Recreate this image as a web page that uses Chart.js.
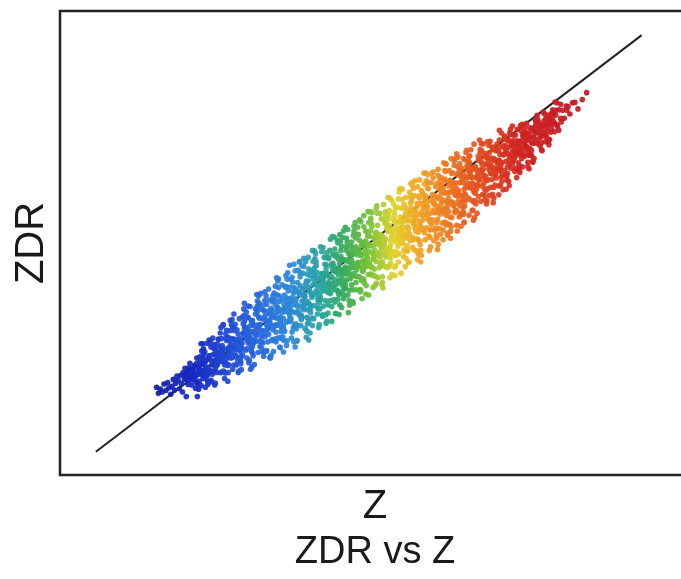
<!DOCTYPE html>
<html>
<head>
<meta charset="utf-8">
<script src="https://cdn.jsdelivr.net/npm/chart.js@4.4.1/dist/chart.umd.min.js"></script>
<style>
  html, body { margin: 0; padding: 0; background: #fff; overflow: hidden; }
  #wrap { width: 700px; height: 579px; }
</style>
</head>
<body>
<div id="wrap"><canvas id="scatterChart" width="700" height="579"></canvas></div>
<script>
// Z / ZDR pairs (axis has no ticks, so units are arbitrary 0-100)
const bluePts = [
  [15.6,18.9],[15.9,17.6],
  [16.2,18.5],[16.5,17.9],[16.8,19.6],
  [17.1,18.2],[17.4,19.9],[17.6,18.8],[17.9,17.4],
  [18.1,19.1],[18.3,20.6],[18.5,18.3],[18.7,19.8],[18.9,21.3],
  [19.1,20.4],[19.3,18.6],[19.5,21.5],[19.6,19.7],[19.8,17.9],[19.9,22.1],
  [20.1,20.6],[20.2,23.0],[20.4,16.9],[20.5,21.8],[20.7,19.5],[20.8,22.4],[20.9,20.9],
  [21.0,24.1],[21.2,21.2],[21.3,19.4],[21.5,22.6],[21.6,20.5],[21.8,23.5],[21.9,18.7],[21.9,22.0],
  [22.0,21.6],[22.1,25.2],[22.2,16.9],[22.4,23.3],[22.5,20.2],[22.6,22.8],[22.7,24.4],[22.8,19.3],[22.9,21.9],
  [23.0,23.9],[23.1,20.8],[23.2,26.0],[23.4,22.4],[23.5,18.9],[23.6,24.7],[23.7,21.6],[23.8,28.4],[23.9,23.1],[23.9,20.1],
  [24.6,23.7],[24.1,25.7],[24.9,22.3],[24.4,27.6],[24.7,24.3],[24.0,25.0],[24.5,20.1],[24.9,27.2],[24.3,22.5],[24.7,29.5],
  [25.3,26.5],[25.8,25.1],[25.1,23.0],[25.6,29.2],[25.4,25.5],[26.0,22.1],[25.1,27.2],[25.5,24.3],[25.9,30.6],[25.3,23.6],[25.7,26.4],
  [26.0,25.5],[26.9,29.5],[26.5,24.6],[26.2,26.7],[26.7,22.0],[26.2,27.9],[26.8,25.8],[26.4,32.4],[26.6,23.7],[26.1,26.3],[26.8,30.4],
  [27.6,28.0],[27.1,23.6],[27.9,31.9],[27.4,26.7],[27.7,29.4],[27.0,25.2],[27.5,33.3],[27.9,22.8],[27.3,27.1],[27.7,26.2],[27.2,29.6],[27.8,25.3],
  [28.3,25.8],[28.8,28.8],[28.1,23.7],[28.6,31.3],[28.4,27.1],[29.0,33.7],[28.1,29.3],[28.5,25.4],[28.9,22.4],[28.3,28.9],[28.7,28.0],[28.0,31.8],
  [29.0,28.9],[29.9,31.9],[29.5,25.9],[29.2,27.5],[29.7,34.3],[29.2,24.0],[29.8,30.1],[29.4,28.4],[29.6,32.6],[29.1,26.7],[29.8,37.0],[29.3,25.5],[29.6,30.6],
  [30.6,28.9],[30.1,31.5],[30.9,27.0],[30.4,34.0],[30.7,29.6],[30.0,30.7],[30.5,24.2],[30.9,33.3],[30.3,27.3],[30.7,36.3],[30.2,25.2],[30.8,30.9],[30.4,29.7],
  [31.3,32.3],[31.8,30.4],[31.1,27.7],[31.6,35.8],[31.4,31.0],[32.0,26.4],[31.1,33.3],[31.5,29.3],[31.9,37.5],[31.3,28.5],[31.7,32.0],[31.0,23.3],[31.4,30.5],[31.9,35.2],
  [32.0,30.9],[32.9,35.5],[32.5,29.8],[32.2,32.3],[32.7,26.6],[32.2,33.8],[32.8,31.1],[32.4,39.1],[32.6,28.7],[32.1,31.9],[32.8,36.6],[32.3,27.7],[32.6,33.8],[33.0,26.5],
  [33.6,31.9],[33.1,33.9],[33.9,25.3],[33.4,36.8],[33.7,30.3],[33.0,35.4],[33.5,31.4],[33.9,33.4],[33.3,26.7],[33.7,40.1],[33.2,30.6],[33.8,35.4],[33.4,32.3],[33.1,37.6],
  [34.3,29.2],[34.8,40.7],[34.1,35.9],[34.6,32.0],[34.4,38.6],[35.0,33.8],[34.1,34.5],[34.5,26.6],[34.9,30.8],[34.3,35.4],[34.7,37.7],[34.0,32.2],[34.4,37.3],[34.9,29.4],[34.6,34.3],
  [35.0,32.4],[35.9,35.0],[35.5,27.6],[35.2,36.1],[35.7,30.9],[35.2,41.8],[35.8,32.6],[35.4,38.6],[35.6,34.0],[35.1,35.1],[35.8,29.4],[35.3,40.4],[35.6,33.2],[36.0,31.4],[35.4,37.4],
  [36.6,27.9],[36.1,32.0],[36.9,39.7],[36.4,35.2],[36.7,36.5],[36.0,29.8],[36.5,43.0],[36.9,33.2],[36.3,38.8],[36.7,28.9],[36.2,36.8],[36.8,35.2],[36.4,40.5],[36.1,31.3],[36.7,38.1]
];

const greenPts = [
  [37.0,37.1],[37.9,32.2],[37.5,42.6],[37.2,35.7],[37.7,39.4],[37.2,33.8],[37.8,45.4],[37.4,29.5],[37.6,36.7],[37.1,34.5],[37.8,40.4],[37.3,33.1],[37.6,41.6],[38.0,27.6],[37.4,38.2],[37.2,35.2],
  [38.6,34.6],[38.1,37.7],[38.9,32.2],[38.4,41.5],[38.7,36.4],[38.0,44.0],[38.5,39.6],[38.9,34.1],[38.3,28.9],[38.7,38.9],[38.2,36.8],[38.8,43.5],[38.4,35.2],[38.1,40.0],[38.7,45.9],[38.3,32.2],
  [39.3,38.6],[39.8,41.8],[39.1,34.0],[39.6,36.8],[39.4,45.0],[40.0,32.6],[39.1,39.0],[39.5,37.6],[39.9,43.3],[39.3,35.6],[39.7,46.0],[39.0,33.5],[39.4,40.2],[39.9,31.0],[39.6,38.4],[39.2,36.1],
  [40.0,37.4],[40.9,42.2],[40.5,35.0],[40.2,44.4],[40.7,38.7],[40.2,40.5],[40.8,32.2],[40.4,43.0],[40.6,36.3],[40.1,46.9],[40.8,33.8],[40.3,39.9],[40.6,39.2],[41.0,43.8],[40.4,35.7],[40.2,29.1],
  [41.6,42.2],[41.1,38.9],[41.9,37.1],[41.4,45.9],[41.7,40.7],[41.0,33.7],[41.5,43.7],[41.9,38.7],[41.3,47.7],[41.7,37.6],[41.2,41.2],[41.8,31.8],[41.4,39.7],[41.1,44.6],[41.7,35.9],[41.3,42.7],
  [42.3,40.4],[42.8,45.4],[42.1,38.3],[42.6,42.2],[42.4,34.5],[43.0,44.5],[42.1,39.5],[42.5,49.0],[42.9,37.6],[42.3,41.5],[42.7,46.9],[42.0,35.8],[42.4,43.4],[42.9,34.5],[42.6,40.2],[42.2,42.6],
  [43.6,41.1],[43.1,43.5],[43.9,33.1],[43.4,46.9],[43.7,39.1],[43.0,45.3],[43.5,40.5],[43.9,42.7],[43.3,34.9],[43.7,50.8],[43.2,39.5],[43.8,45.2],[43.4,41.5],[43.1,47.9],[43.7,37.6],[43.3,43.0],
  [44.3,37.8],[44.8,50.6],[44.1,45.6],[44.6,41.0],[44.4,48.7],[45.0,43.1],[44.1,44.0],[44.5,34.8],[44.9,39.6],[44.3,45.0],[44.7,47.6],[44.0,41.3],[44.4,47.2],[44.9,37.9],[44.6,43.7],[44.2,39.9],
  [45.0,41.5],[45.9,44.3],[45.5,36.1],[45.2,45.6],[45.7,39.7],[45.2,51.8],[45.8,41.6],[45.4,48.4],[45.6,43.2],[45.1,44.5],[45.8,38.0],[45.3,50.4],[45.6,42.3],[46.0,40.3],[45.4,47.1],[45.2,44.0],
  [46.6,35.0],[46.1,41.0],[46.9,49.3],[46.4,44.5],[46.7,45.9],[46.0,38.7],[46.5,52.9],[46.9,42.3],[46.3,48.4],[46.7,37.6],[46.2,46.2],[46.8,44.5],[46.4,50.2],[46.1,40.3],[46.7,47.6],[46.3,43.3],
  [47.3,48.3],[47.8,41.5],[47.1,50.2],[47.6,45.5],[47.4,37.0],[48.0,47.5],[47.1,42.7],[47.5,53.6],[47.9,44.2],[47.3,49.1],[47.7,39.9],[47.0,45.6],[47.4,51.6],[47.9,42.8],[47.6,44.9],[47.2,47.5],
  [48.0,47.9],[48.9,46.1],[48.5,39.5],[48.2,48.7],[48.7,41.9],[48.2,51.9],[48.8,47.5],[48.4,42.7],[48.6,54.6],[48.1,45.0],[48.8,49.8],[48.3,39.9],[48.6,47.7],[49.0,44.6],[48.4,50.6],[48.2,45.8],
  [49.3,48.6],[49.8,43.2],[49.1,53.5],[49.6,47.3],[49.4,50.4],[50.0,45.8],[49.1,55.9],[49.5,40.8],[49.9,48.2],[49.3,45.9],[49.7,51.5],[49.0,44.0],[49.4,52.6],[49.9,38.8],[49.6,49.5],[49.2,46.4],
  [50.0,45.3],[50.9,49.6],[50.5,43.0],[50.2,52.6],[50.7,47.5],[50.2,55.3],[50.8,51.1],[50.4,44.8],[50.6,40.4],[50.1,49.6],[50.8,48.5],[50.3,54.2],[50.6,46.6],[51.0,52.0],[50.4,56.6],[50.2,43.3],
  [51.6,49.9],[51.1,52.3],[51.9,45.8],[51.4,47.6],[51.7,56.4],[51.0,42.8],[51.5,50.5],[51.9,49.1],[51.3,53.8],[51.7,47.0],[51.2,58.0],[51.8,45.4],[51.4,51.3],[51.1,41.3],[51.7,49.7],[51.3,47.3],
  [52.3,48.9],[52.8,53.2],[52.1,45.9],[52.6,56.0],[52.4,49.7],[53.0,52.5],[52.1,42.7],[52.5,54.3],[52.9,47.8],[52.3,58.3],[52.7,44.9],[52.0,50.8],[52.4,50.2],[52.9,55.0],[52.6,47.0],[52.2,40.3]
];

const orangePts = [
  [53.0,52.9],[53.9,50.9],[53.5,47.9],[53.2,57.0],[53.7,51.8],[53.2,45.0],[53.8,55.2],[53.4,49.4],[53.6,59.2],[53.1,48.3],[53.8,52.9],[53.3,42.5],[53.6,51.1],[54.0,56.6],[53.4,46.8],[53.2,53.8],
  [54.6,51.7],[54.1,55.9],[54.9,50.1],[54.4,53.0],[54.7,45.9],[54.0,54.7],[54.5,51.0],[54.9,61.7],[54.3,48.1],[54.7,52.9],[54.2,57.6],[54.8,47.7],[54.4,54.5],[54.1,44.8],[54.7,51.5],[54.3,53.8],
  [55.3,52.0],[55.8,55.3],[55.1,43.5],[55.6,58.3],[55.4,49.9],[56.0,57.4],[55.1,51.3],[55.5,53.4],[55.9,46.7],[55.3,61.6],[55.7,51.1],[55.0,55.6],[55.4,52.6],[55.9,59.8],[55.6,48.6],[55.2,54.1],
  [56.0,48.7],[56.9,62.5],[56.5,57.1],[56.2,51.8],[56.7,60.1],[56.2,53.5],[56.8,55.9],[56.4,45.9],[56.6,50.5],[56.1,56.0],[56.8,59.1],[56.3,52.8],[56.6,58.6],[57.0,49.1],[56.4,54.8],[56.2,51.1],
  [57.6,53.1],[57.1,54.7],[57.9,47.6],[57.4,56.8],[57.7,50.9],[57.0,63.1],[57.5,52.5],[57.9,60.1],[57.3,54.0],[57.7,56.2],[57.2,48.6],[57.8,62.1],[57.4,53.3],[57.1,50.7],[57.7,58.5],[57.3,55.3],
  [58.3,45.9],[58.8,52.7],[58.1,59.7],[58.6,55.9],[58.4,56.7],[59.0,50.7],[58.1,63.6],[58.5,53.0],[58.9,60.1],[58.3,48.4],[58.7,57.7],[58.0,54.8],[58.4,61.3],[58.9,52.2],[58.6,58.5],[58.2,54.3],
  [59.0,59.2],[59.9,52.9],[59.5,61.7],[59.2,56.3],[59.7,48.4],[59.2,57.9],[59.8,54.6],[59.4,64.7],[59.6,55.1],[59.1,60.1],[59.8,51.2],[59.3,57.1],[59.6,63.0],[60.0,54.0],[59.4,56.0],[59.2,58.7],
  [60.6,59.6],[60.1,56.5],[60.9,51.1],[60.4,60.0],[60.7,53.2],[60.0,63.0],[60.5,58.4],[60.9,54.4],[60.3,65.3],[60.7,56.7],[60.2,60.5],[60.8,51.6],[60.4,58.7],[60.1,55.0],[60.7,62.1],[60.3,57.1],
  [61.3,59.7],[61.8,54.3],[61.1,64.6],[61.6,58.4],[61.4,61.5],[62.0,56.9],[61.1,65.9],[61.5,51.9],[61.9,59.3],[61.3,57.0],[61.7,62.6],[61.0,55.1],[61.4,63.7],[61.9,50.7],[61.6,60.6],[61.2,57.5],
  [62.0,56.5],[62.9,60.9],[62.5,54.2],[62.2,63.8],[62.7,58.7],[62.2,65.6],[62.8,62.3],[62.4,56.0],[62.6,52.1],[62.1,60.8],[62.8,59.7],[62.3,65.4],[62.6,57.8],[63.0,63.2],[62.4,67.0],[62.2,54.5],
  [63.6,61.1],[63.1,63.5],[63.9,57.0],[63.4,58.8],[63.7,67.6],[63.0,54.0],[63.5,61.7],[63.9,60.3],[63.3,65.0],[63.7,58.2],[63.2,68.2],[63.8,56.6],[63.4,62.5],[63.1,52.5],[63.7,60.9],[63.3,58.5],
  [64.3,60.0],[64.8,64.3],[64.1,57.0],[64.6,67.1],[64.4,60.8],[65.0,63.6],[64.1,53.8],[64.5,65.4],[64.9,58.9],[64.3,68.5],[64.7,56.0],[64.0,61.9],[64.4,61.3],[64.9,66.1],[64.6,58.1],[64.2,52.6],
  [65.0,64.1],[65.9,62.0],[65.5,59.1],[65.2,68.2],[65.7,63.0],[65.2,56.2],[65.8,66.3],[65.4,60.5],[65.6,69.5],[65.1,59.4],[65.8,64.1],[65.3,54.4],[65.6,62.2],[66.0,67.7],[65.4,58.0],[65.2,64.9],
  [66.6,62.9],[66.1,67.1],[66.9,61.3],[66.4,64.2],[66.7,57.1],[66.0,65.9],[66.5,62.2],[66.9,71.3],[66.3,59.3],[66.7,64.1],[66.2,68.8],[66.8,58.9],[66.4,65.7],[66.1,56.0],[66.7,62.7],[66.3,65.0]
];

const redPts = [
  [67.3,65.6],[67.8,63.7],[67.1,60.7],[67.6,68.7],[67.4,64.5],[68.0,59.0],[67.1,66.5],[67.5,62.6],[67.9,70.2],[67.3,61.6],[67.7,65.4],[67.0,55.5],[67.4,63.9],[67.9,68.2],[67.6,60.0],
  [68.0,64.2],[68.9,68.4],[68.5,62.9],[68.2,65.6],[68.7,59.3],[68.2,66.9],[68.8,64.4],[68.4,71.4],[68.6,61.7],[68.1,65.2],[68.8,69.3],[68.3,60.5],[68.6,67.0],[69.0,59.1],
  [69.6,67.0],[69.1,61.7],[69.9,70.7],[69.4,65.6],[69.7,68.3],[69.0,63.7],[69.5,71.9],[69.9,60.5],[69.3,66.1],[69.7,64.9],[69.2,68.4],[69.8,63.7],[69.4,69.5],
  [70.3,64.6],[70.8,67.8],[70.1,62.0],[70.6,70.1],[70.4,66.0],[71.0,72.2],[70.1,68.2],[70.5,64.0],[70.9,60.4],[70.3,67.9],[70.7,67.0],[70.0,70.4],
  [71.0,67.8],[71.9,70.4],[71.5,64.6],[71.2,66.4],[71.7,72.3],[71.2,62.5],[71.8,69.0],[71.4,67.3],[71.6,70.9],[71.1,65.5],[71.8,73.1],[71.3,64.2],
  [72.6,68.0],[72.1,70.1],[72.9,66.1],[72.4,72.0],[72.7,68.7],[72.0,69.5],[72.5,63.3],[72.9,71.7],[72.3,66.4],[72.7,73.8],[72.2,64.3],
  [73.3,70.9],[73.8,69.5],[73.1,67.0],[73.6,73.3],[73.4,70.0],[74.0,65.9],[73.1,71.5],[73.5,68.5],[73.9,74.5],[73.3,67.7],
  [74.0,70.0],[74.9,73.3],[74.5,69.0],[74.2,71.0],[74.7,66.4],[74.2,71.9],[74.8,70.3],[74.4,75.3],[74.6,68.2],
  [75.0,71.6],[75.1,68.7],[75.3,73.6],[75.4,70.2],[75.6,66.5],[75.7,72.6],[75.8,69.3],[75.9,74.9],
  [76.0,72.7],[76.2,70.0],[76.3,74.6],[76.5,71.5],[76.6,68.2],[76.8,73.6],[76.9,75.5],
  [77.1,73.9],[77.2,71.4],[77.4,75.6],[77.6,72.7],[77.8,70.1],[77.9,74.8],
  [78.1,75.3],[78.3,73.1],[78.5,76.8],[78.7,74.2],[78.9,72.0],
  [79.1,76.5],[79.4,74.6],[79.6,77.8],[79.9,75.7],
  [80.1,77.6],[80.3,75.5],[80.6,78.7],[80.9,76.9],
  [81.2,78.6],[81.5,76.9],[81.8,79.5],
  [82.1,79.4],[82.4,77.8],[82.8,80.2],
  [83.2,80.3],[83.7,78.9],[84.4,80.9],[85.1,82.4],
  [72.6,62.4],[74.2,65.6],[75.8,69.0],[78.5,73.4],[76.4,67.4],[81.9,78.6]
];

// the dense core of the band
const corePts = [
  [20.1,21.5],[20.5,20.5],[20.8,23.1],[20.3,21.0],[20.6,22.3],[21.0,20.5],
  [21.4,21.3],[21.7,23.6],[21.1,21.6],[21.5,22.5],[21.9,21.1],[21.2,22.9],
  [22.4,23.0],[22.7,22.6],[22.1,24.1],[22.5,21.7],[22.9,24.1],[22.2,21.7],
  [23.4,24.1],[23.7,22.6],[23.1,25.2],[23.5,23.3],[23.9,25.1],[23.2,21.5],
  [24.6,23.9],[24.2,25.7],[24.9,24.7],[24.4,24.8],[24.1,22.3],[24.8,26.0],
  [25.6,25.7],[25.2,24.4],[25.9,27.6],[25.4,23.7],[25.1,25.9],[25.8,24.4],
  [26.6,27.2],[26.2,24.5],[26.9,29.0],[26.4,25.7],[26.1,27.2],[26.8,24.2],
  [27.1,25.8],[27.5,28.9],[27.8,27.1],[27.3,27.5],[27.6,25.2],[28.0,29.2],
  [28.1,27.9],[28.5,27.1],[28.8,30.4],[28.3,25.9],[28.6,29.2],[29.0,27.0],
  [29.1,29.4],[29.5,27.2],[29.8,31.7],[29.3,28.2],[29.6,30.5],[30.0,26.9],
  [30.4,28.5],[30.7,32.1],[30.1,29.2],[30.5,30.5],[30.9,27.9],[30.2,31.3],
  [31.4,30.9],[31.7,30.1],[31.1,32.8],[31.5,28.7],[31.9,32.3],[31.2,29.0],
  [32.4,32.5],[32.7,30.2],[32.1,34.1],[32.5,31.2],[32.9,33.6],[32.2,28.8],
  [33.6,31.6],[33.2,34.6],[33.9,32.8],[33.4,33.2],[33.1,29.8],[33.8,34.8],
  [34.6,34.0],[34.2,32.3],[34.9,36.6],[34.4,31.3],[34.1,34.7],[34.8,32.2],
  [35.6,35.6],[35.2,32.3],[35.9,37.9],[35.4,33.7],[35.1,35.9],[35.8,31.8],
  [36.1,33.7],[36.5,37.8],[36.8,35.4],[36.3,36.0],[36.6,32.9],[37.0,37.9],
  [37.1,36.4],[37.5,35.2],[37.8,39.2],[37.3,33.7],[37.6,37.9],[38.0,35.0],
  [38.1,38.0],[38.5,35.0],[38.8,40.8],[38.3,36.4],[38.6,39.3],[39.0,34.4],
  [39.4,36.6],[39.7,41.1],[39.1,37.5],[39.5,39.0],[39.9,35.6],[39.2,40.2],
  [40.4,39.4],[40.7,38.3],[40.1,41.8],[40.5,36.6],[40.9,41.0],[40.2,37.0],
  [41.4,41.0],[41.7,38.1],[41.1,43.0],[41.5,39.4],[41.9,42.3],[41.2,36.5],
  [42.6,39.7],[42.2,43.4],[42.9,41.1],[42.4,41.7],[42.1,37.7],[42.8,43.5],
  [43.6,42.5],[43.2,40.6],[43.9,45.4],[43.4,39.3],[43.1,43.1],[43.8,40.3],
  [44.6,44.1],[44.2,40.4],[44.9,46.6],[44.4,42.1],[44.1,44.4],[44.8,39.8],
  [45.1,41.9],[45.5,46.4],[45.8,43.7],[45.3,44.3],[45.6,40.9],[46.0,46.4],
  [46.1,44.8],[46.5,43.6],[46.8,48.0],[46.3,42.0],[46.6,46.4],[47.0,43.3],
  [47.1,46.4],[47.5,43.4],[47.8,49.2],[47.3,44.8],[47.6,47.7],[48.0,42.8],
  [48.4,44.9],[48.7,49.4],[48.1,45.8],[48.5,47.3],[48.9,43.9],[48.2,48.5],
  [49.4,47.8],[49.7,46.7],[49.1,50.2],[49.5,45.0],[49.9,49.4],[49.2,45.4],
  [50.4,49.4],[50.7,46.5],[50.1,51.4],[50.5,47.8],[50.9,50.7],[50.2,44.9],
  [51.6,48.0],[51.2,51.7],[51.9,49.4],[51.4,50.0],[51.1,46.0],[51.8,51.8],
  [52.6,50.9],[52.2,49.0],[52.9,53.8],[52.4,47.7],[52.1,51.5],[52.8,48.7],
  [53.6,52.5],[53.2,48.8],[53.9,55.0],[53.4,50.5],[53.1,52.8],[53.8,48.2],
  [54.1,50.3],[54.5,54.7],[54.8,52.0],[54.3,52.7],[54.6,49.3],[55.0,54.8],
  [55.1,53.1],[55.5,52.0],[55.8,56.4],[55.3,50.3],[55.6,54.7],[56.0,51.6],
  [56.1,54.8],[56.5,51.8],[56.8,57.6],[56.3,53.2],[56.6,56.1],[57.0,51.2],
  [57.4,53.3],[57.7,57.8],[57.1,54.2],[57.5,55.7],[57.9,52.3],[57.2,56.9],
  [58.4,56.1],[58.7,55.0],[58.1,58.5],[58.5,53.3],[58.9,57.7],[58.2,53.7],
  [59.4,57.8],[59.7,54.9],[59.1,59.8],[59.5,56.2],[59.9,59.1],[59.2,53.3],
  [60.6,56.5],[60.2,59.9],[60.9,57.9],[60.4,58.4],[60.1,54.7],[60.8,60.0],
  [61.6,59.1],[61.2,57.4],[61.9,61.8],[61.4,56.2],[61.1,59.7],[61.8,57.2],
  [62.6,60.8],[62.2,57.4],[62.9,63.2],[62.4,58.9],[62.1,61.0],[62.8,56.8],
  [63.1,58.8],[63.5,62.9],[63.8,60.5],[63.3,61.1],[63.6,58.0],[64.0,63.0],
  [64.1,61.4],[64.5,60.4],[64.8,64.4],[64.3,58.9],[64.6,63.0],[65.0,60.2],
  [65.1,63.0],[65.5,60.4],[65.8,65.8],[65.3,61.5],[65.6,64.2],[66.0,59.7],
  [66.4,61.8],[66.7,66.0],[66.1,62.7],[66.5,64.1],[66.9,61.0],[66.2,65.1],
  [67.4,64.4],[67.7,63.6],[67.1,66.2],[67.5,62.3],[67.9,65.8],[67.2,62.5],
  [68.4,65.9],[68.7,63.7],[68.1,67.4],[68.5,64.6],[68.9,67.0],[68.2,62.3],
  [69.6,65.1],[69.2,67.9],[69.9,66.3],[69.4,66.7],[69.1,63.5],[69.8,68.1],
  [70.6,67.5],[70.2,65.9],[70.9,69.8],[70.4,65.0],[70.1,67.9],[70.8,65.8],
  [71.6,69.0],[71.2,66.0],[71.9,71.0],[71.4,67.3],[71.1,69.1],[71.8,65.6],
  [72.1,67.6],[72.5,70.7],[72.8,68.9],[72.3,69.3],[72.6,67.1],[73.0,70.9],
  [73.1,69.7],[73.5,69.1],[73.8,72.0],[73.3,68.0],[73.6,71.0],[74.0,69.1],
  [74.1,71.1],[74.5,69.4],[74.8,73.0],[74.3,70.2],[74.6,72.0],[75.0,69.2],
  [75.4,70.8],[75.7,73.4],[75.1,71.1],[75.5,72.1],[75.9,70.4],[75.2,72.7],
  [76.4,72.9],[76.7,72.5],[76.1,74.1],[76.5,71.5],[76.9,74.0],[76.2,71.6],
  [77.4,74.4],[77.7,73.2],[77.1,75.3],[77.5,73.7],[77.9,75.3],[77.2,72.2],
  [78.6,75.0],[78.2,76.3],[78.9,75.7],[78.4,75.7],[78.1,73.8],[78.8,76.7],
  [79.6,77.0],[79.2,75.9],[79.9,78.3],[79.4,75.5],[79.1,76.9],[79.8,76.1]
];

// the looser halo round the core
const haloPts = [
  [22.2,19.6],[22.6,25.5],[22.4,18.5],[22.9,26.7],[22.1,20.0],[22.8,28.3],
  [23.2,27.2],[23.6,20.7],[23.4,26.5],[23.9,19.5],[23.1,28.3],[23.8,21.5],
  [24.9,28.1],[24.4,20.4],[24.1,29.1],[24.6,21.7],[24.3,28.6],[25.0,19.4],
  [25.9,22.1],[25.4,28.2],[25.1,19.8],[25.6,29.3],[25.3,22.1],[26.0,31.8],
  [26.9,31.2],[26.4,22.4],[26.1,29.4],[26.6,20.8],[26.3,32.2],[27.0,23.8],
  [27.5,31.1],[27.2,22.1],[27.8,33.5],[27.3,23.7],[27.7,32.4],[27.1,20.2],
  [28.5,23.7],[28.2,31.1],[28.8,22.1],[28.3,32.5],[28.7,24.4],[28.1,34.7],
  [29.5,34.1],[29.2,24.5],[29.8,33.1],[29.3,22.7],[29.7,35.8],[29.1,25.4],
  [30.2,33.9],[30.6,24.7],[30.4,36.4],[30.9,26.7],[30.1,35.1],[30.8,22.8],
  [31.2,25.7],[31.6,34.7],[31.4,23.8],[31.9,36.4],[31.1,26.3],[31.8,38.9],
  [32.2,37.0],[32.6,27.4],[32.4,35.8],[32.9,25.6],[32.1,38.6],[32.8,28.5],
  [33.9,37.7],[33.4,26.8],[33.1,39.5],[33.6,28.7],[33.3,38.6],[34.0,25.2],
  [34.9,28.7],[34.4,37.6],[34.1,25.8],[34.6,39.2],[34.3,29.0],[35.0,42.5],
  [35.9,41.0],[35.4,29.6],[35.1,38.8],[35.6,27.4],[35.3,42.3],[36.0,31.2],
  [36.5,40.6],[36.2,29.0],[36.8,43.6],[36.3,31.0],[36.7,42.2],[36.1,26.5],
  [37.5,30.8],[37.2,40.5],[37.8,28.7],[37.3,42.2],[37.7,31.7],[37.1,45.2],
  [38.5,44.1],[38.2,31.5],[38.8,42.7],[38.3,29.0],[38.7,46.0],[38.1,32.6],
  [39.2,43.5],[39.6,31.6],[39.4,46.7],[39.9,34.0],[39.1,45.1],[39.8,29.7],
  [40.2,32.9],[40.6,44.0],[40.4,30.6],[40.9,46.0],[40.1,33.7],[40.8,48.4],
  [41.2,46.6],[41.6,34.7],[41.4,45.1],[41.9,32.4],[41.1,48.3],[41.8,36.0],
  [42.9,46.9],[42.4,34.2],[42.1,49.2],[42.6,36.4],[42.3,48.1],[43.0,32.7],
  [43.9,36.3],[43.4,46.6],[43.1,33.1],[43.6,48.4],[43.3,36.7],[44.0,51.4],
  [44.9,50.0],[44.4,37.3],[44.1,47.6],[44.6,34.8],[44.3,51.3],[45.0,39.0],
  [45.5,49.3],[45.2,36.7],[45.8,52.6],[45.3,39.0],[45.7,51.2],[45.1,34.6],
  [46.5,38.8],[46.2,49.2],[46.8,36.6],[46.3,51.0],[46.7,39.8],[46.1,53.4],
  [47.5,52.5],[47.2,39.9],[47.8,51.1],[47.3,37.4],[47.7,54.4],[47.1,41.0],
  [48.2,51.8],[48.6,39.9],[48.4,55.0],[48.9,42.3],[48.1,53.4],[48.8,38.0],
  [49.2,41.3],[49.6,52.4],[49.4,39.0],[49.9,54.4],[49.1,42.1],[49.8,56.8],
  [50.2,55.0],[50.6,43.1],[50.4,53.5],[50.9,40.8],[50.1,56.7],[50.8,44.4],
  [51.9,55.2],[51.4,42.5],[51.1,57.5],[51.6,44.7],[51.3,56.4],[52.0,41.0],
  [52.9,44.7],[52.4,55.0],[52.1,41.5],[52.6,56.8],[52.3,45.1],[53.0,59.8],
  [53.9,58.4],[53.4,45.7],[53.1,56.0],[53.6,43.2],[53.3,59.7],[54.0,47.4],
  [54.5,57.7],[54.2,45.1],[54.8,61.0],[54.3,47.3],[54.7,59.5],[54.1,43.0],
  [55.5,47.1],[55.2,57.5],[55.8,44.9],[55.3,59.4],[55.7,48.2],[55.1,61.7],
  [56.5,60.9],[56.2,48.3],[56.8,59.5],[56.3,45.8],[56.7,62.8],[56.1,49.4],
  [57.2,60.2],[57.6,48.3],[57.4,63.4],[57.9,50.7],[57.1,61.8],[57.8,46.4],
  [58.2,49.6],[58.6,60.7],[58.4,47.3],[58.9,62.7],[58.1,50.4],[58.8,65.1],
  [59.2,63.4],[59.6,51.5],[59.4,61.9],[59.9,49.2],[59.1,65.1],[59.8,52.8],
  [60.9,62.8],[60.4,50.5],[60.1,65.0],[60.6,52.7],[60.3,64.0],[61.0,48.6],
  [61.9,52.8],[61.4,62.4],[61.1,49.7],[61.6,64.1],[61.3,53.1],[62.0,67.3],
  [62.9,65.6],[62.4,53.9],[62.1,63.4],[62.6,51.7],[62.3,67.1],[63.0,55.6],
  [63.5,65.1],[63.2,53.5],[63.8,68.1],[63.3,55.5],[63.7,66.7],[63.1,51.0],
  [64.5,55.6],[64.2,64.8],[64.8,53.6],[64.3,66.4],[64.7,56.4],[64.1,69.2],
  [65.5,67.9],[65.2,56.6],[65.8,66.7],[65.3,54.5],[65.7,70.0],[65.1,57.6],
  [66.2,67.3],[66.6,57.0],[66.4,70.1],[66.9,59.1],[66.1,68.7],[66.8,54.9],
  [67.2,58.4],[67.6,67.8],[67.4,56.4],[67.9,69.5],[67.1,59.0],[67.8,72.2],
  [68.2,69.8],[68.6,60.2],[68.4,68.6],[68.9,58.4],[68.1,71.4],[68.8,61.3],
  [69.9,70.2],[69.4,60.2],[69.1,71.8],[69.6,62.0],[69.3,71.0],[70.0,58.7],
  [70.9,62.3],[70.4,69.9],[70.1,59.7],[70.6,71.3],[70.3,62.5],[71.0,74.3],
  [71.9,72.7],[71.4,63.3],[71.1,70.7],[71.6,61.5],[71.3,73.7],[72.0,64.7],
  [72.5,72.2],[72.2,63.5],[72.8,74.5],[72.3,65.0],[72.7,73.4],[72.1,61.6],
  [73.5,65.4],[73.2,72.0],[73.8,64.1],[73.3,73.2],[73.7,66.1],[73.1,75.2],
  [74.5,74.2],[74.2,66.6],[74.8,73.5],[74.3,65.2],[74.7,75.6],[74.1,67.3],
  [75.2,73.9],[75.6,67.4],[75.4,75.8],[75.9,68.9],[75.1,74.8],[75.8,66.0],
  [76.2,68.8],[76.6,74.9],[76.4,67.6],[76.9,76.2],[76.1,69.1],[76.8,76.5],
  [77.2,76.6],[77.6,70.9],[77.4,75.9],[77.9,69.9],[77.1,77.5],[77.8,71.6],
  [78.9,77.6],[78.4,71.8],[78.1,78.2],[78.6,72.9],[78.3,77.8],[79.0,71.2],
  [79.9,74.0],[79.4,77.9],[79.1,72.3],[79.6,78.7],[79.3,73.9],[80.0,80.4],
  [80.9,79.9],[80.4,75.1],[80.1,78.6],[80.6,74.3],[80.3,80.2],[81.0,76.1]
];

// fitted 1:1 line end points
const fitZ = [5.8, 94.0];
const fitZdr = [5.0, 94.8];

// jet-like colour ramp along Z
const colorStops = [
  [15, 18, 28, 160], [22, 24, 42, 195], [30, 38, 92, 220], [37, 45, 135, 218],
  [42, 40, 165, 165], [46, 55, 170, 90], [50, 120, 195, 55], [54, 225, 210, 45],
  [58, 242, 166, 38], [63, 238, 120, 34], [68, 226, 78, 34], [74, 210, 38, 34],
  [86, 190, 22, 38]
];

function colorFor(z) {
  if (z <= colorStops[0][0]) z = colorStops[0][0];
  for (let i = 1; i < colorStops.length; i++) {
    const a = colorStops[i - 1], b = colorStops[i];
    if (z <= b[0] || i === colorStops.length - 1) {
      const t = Math.min(1, (z - a[0]) / (b[0] - a[0]));
      const r = Math.round(a[1] + (b[1] - a[1]) * t);
      const g = Math.round(a[2] + (b[2] - a[2]) * t);
      const bl = Math.round(a[3] + (b[3] - a[3]) * t);
      return 'rgba(' + r + ',' + g + ',' + bl + ',0.92)';
    }
  }
}

const allPts = bluePts.concat(greenPts, orangePts, redPts, corePts, haloPts)
  .map(p => ({ x: p[0], y: p[1] }))
  .sort((a, b) => a.x - b.x);

const boxPlugin = {
  id: 'box',
  afterDraw(chart) {
    const a = chart.chartArea;
    const c = chart.ctx;
    c.save();
    c.strokeStyle = '#222';
    c.lineWidth = 2.5;
    c.strokeRect(a.left, a.top, a.right - a.left, a.bottom - a.top);
    c.restore();
  }
};

const ctx = document.getElementById('scatterChart').getContext('2d');

new Chart(ctx, {
  type: 'scatter',
  data: {
    datasets: [
      {
        data: allPts,
        order: 0,
        pointRadius: 2.8,
        pointBorderWidth: 0,
        pointBackgroundColor: c => colorFor(c.raw ? c.raw.x : 50),
        pointHoverRadius: 2.8
      },
      {
        type: 'line',
        data: [{ x: fitZ[0], y: fitZdr[0] }, { x: fitZ[1], y: fitZdr[1] }],
        order: 1,
        borderColor: '#222',
        borderWidth: 2,
        pointRadius: 0,
        fill: false
      }
    ]
  },
  options: {
    responsive: false,
    animation: false,
    layout: { padding: { left: 4, top: 11, right: 10, bottom: 7 } },
    plugins: {
      legend: { display: false },
      tooltip: { enabled: false },
      title: {
        display: true,
        position: 'bottom',
        fullSize: false,
        text: 'ZDR vs Z',
        color: '#1a1a1a',
        font: { family: 'Liberation Sans', size: 38, weight: 'normal', lineHeight: 1 },
        padding: { top: 7, bottom: 0 }
      }
    },
    scales: {
      x: {
        type: 'linear',
        min: 0,
        max: 101.8,
        ticks: { display: false },
        grid: { display: false, drawTicks: false },
        border: { display: false },
        title: {
          display: true,
          text: 'Z',
          color: '#1a1a1a',
          font: { family: 'Liberation Sans', size: 40, lineHeight: 1 },
          padding: { top: 12, bottom: 0 }
        }
      },
      y: {
        type: 'linear',
        min: 0,
        max: 100,
        ticks: { display: false },
        grid: { display: false, drawTicks: false },
        border: { display: false },
        title: {
          display: true,
          text: 'ZDR',
          color: '#1a1a1a',
          font: { family: 'Liberation Sans', size: 40, lineHeight: 1 },
          padding: { top: 8, bottom: 8 }
        }
      }
    }
  },
  plugins: [boxPlugin]
});
</script>
</body>
</html>
